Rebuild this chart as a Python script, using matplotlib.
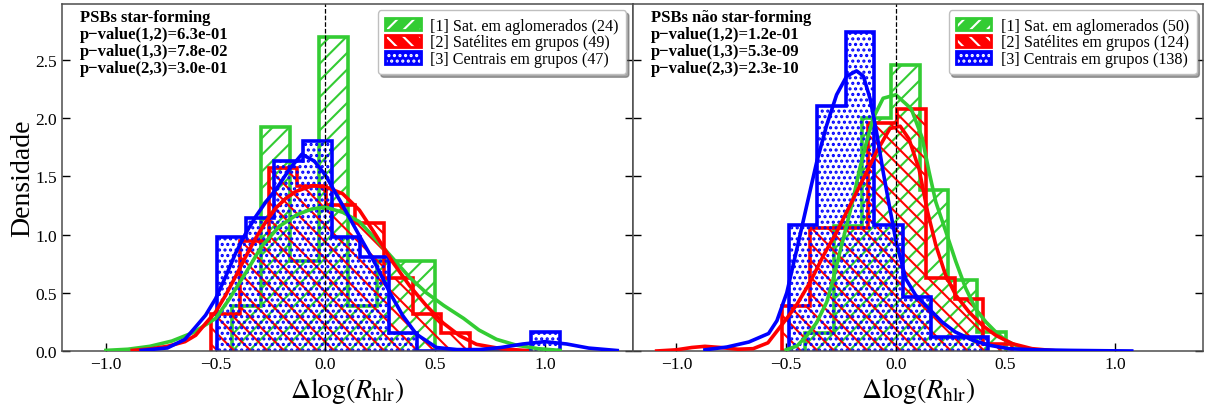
import matplotlib
matplotlib.use('Agg')
import matplotlib.pyplot as plt
from matplotlib.patches import Patch
from matplotlib.legend_handler import HandlerTuple

plt.rcParams['font.family'] = ['Liberation Serif', 'DejaVu Serif']
plt.rcParams['mathtext.fontset'] = 'stix'
plt.rcParams['hatch.linewidth'] = 1.5

# --- left panel: PSBs star-forming ---
L_green_edges = [-0.426, -0.294, -0.162, -0.030, 0.102, 0.234, 0.366, 0.498]
L_green_dens = [0.385, 1.925, 0.77, 2.695, 0.385, 0.77, 0.77]
L_red_edges = [-0.520, -0.389, -0.258, -0.127, 0.004, 0.136, 0.267, 0.398, 0.529, 0.660]
L_red_dens = [0.314, 0.942, 1.57, 1.413, 1.256, 1.099, 0.628, 0.314, 0.157]
L_blue_edges = [-0.492, -0.362, -0.232, -0.102, 0.028, 0.158, 0.288, 0.418,
                0.548, 0.678, 0.808, 0.938, 1.068]
L_blue_dens = [0.977, 1.14, 1.63, 1.80, 0.977, 0.81, 0.158, 0, 0, 0, 0, 0.164]

L_green_kx = [-1.0, -0.9, -0.8, -0.7, -0.6, -0.5, -0.44, -0.36, -0.29, -0.21, -0.13,
              -0.06, 0.0, 0.08, 0.155, 0.23, 0.31, 0.385, 0.46, 0.54, 0.63, 0.70,
              0.78, 0.87, 0.97, 1.07]
L_green_ky = [0.005, 0.015, 0.04, 0.085, 0.16, 0.28, 0.44, 0.68, 0.9, 1.07, 1.17,
              1.22, 1.235, 1.19, 1.11, 0.96, 0.79, 0.63, 0.50, 0.39, 0.28, 0.18,
              0.10, 0.05, 0.02, 0.005]
L_red_kx = [-0.88, -0.8, -0.72, -0.64, -0.591, -0.546, -0.5, -0.454, -0.409, -0.363,
            -0.317, -0.271, -0.226, -0.18, -0.134, -0.058, 0.0, 0.079, 0.155, 0.232,
            0.308, 0.384, 0.46, 0.537, 0.613, 0.689, 0.8, 0.92]
L_red_ky = [0.005, 0.017, 0.04, 0.08, 0.135, 0.236, 0.336, 0.48, 0.64, 0.81, 0.97,
            1.11, 1.227, 1.31, 1.37, 1.42, 1.41, 1.35, 1.21, 0.99, 0.76, 0.56, 0.39,
            0.24, 0.13, 0.057, 0.02, 0.003]
L_blue_kx = [-0.84, -0.72, -0.64, -0.591, -0.546, -0.5, -0.454, -0.409, -0.363, -0.317,
             -0.271, -0.226, -0.16, -0.107, -0.05, 0.0, 0.079, 0.155, 0.232, 0.293,
             0.354, 0.415, 0.506, 0.6, 0.7, 0.8, 0.9, 1.0, 1.1, 1.2, 1.33]
L_blue_ky = [0.005, 0.026, 0.10, 0.207, 0.307, 0.45, 0.64, 0.84, 1.01, 1.155, 1.28,
             1.385, 1.57, 1.69, 1.63, 1.51, 1.25, 0.99, 0.733, 0.503, 0.30, 0.144,
             0.03, 0.012, 0.012, 0.03, 0.06, 0.08, 0.06, 0.025, 0.004]

# --- right panel: PSBs nao star-forming ---
R_green_edges = [-0.414, -0.283, -0.153, -0.022, 0.109, 0.239, 0.370, 0.500]
R_green_dens = [0.153, 1.07, 2.0, 2.457, 1.385, 0.61, 0.164]
R_red_edges = [-0.520, -0.389, -0.257, -0.126, 0.005, 0.137, 0.268, 0.399, 0.530]
R_red_dens = [0.382, 1.057, 1.057, 1.954, 2.078, 0.63, 0.445, 0.063]
R_blue_edges = [-0.488, -0.358, -0.228, -0.098, 0.032, 0.162, 0.292, 0.422]
R_blue_dens = [1.078, 2.106, 2.739, 1.078, 0.46, 0.121, 0.121]

R_green_kx = [-0.5, -0.451, -0.406, -0.361, -0.315, -0.285, -0.255, -0.224, -0.194,
              -0.164, -0.133, -0.103, -0.058, 0.0, 0.07, 0.12, 0.15, 0.182, 0.227,
              0.273, 0.318, 0.364, 0.41, 0.455, 0.5, 0.545, 0.6, 0.65]
R_green_ky = [0.01, 0.043, 0.13, 0.244, 0.42, 0.62, 0.85, 1.08, 1.31, 1.57, 1.80,
              2.0, 2.17, 2.20, 2.08, 1.83, 1.55, 1.28, 1.03, 0.77, 0.54, 0.36, 0.25,
              0.164, 0.092, 0.05, 0.02, 0.005]
R_red_kx = [-1.09, -1.0, -0.93, -0.87, -0.8, -0.72, -0.65, -0.583, -0.542, -0.497,
            -0.451, -0.391, -0.33, -0.27, -0.209, -0.148, -0.088, -0.027, 0.02, 0.06,
            0.106, 0.144, 0.182, 0.227, 0.273, 0.333, 0.394, 0.455, 0.53, 0.62, 0.72]
R_red_ky = [0.0, 0.01, 0.03, 0.04, 0.03, 0.015, 0.02, 0.07, 0.17, 0.28, 0.40, 0.59,
            0.82, 1.02, 1.25, 1.48, 1.71, 1.91, 1.93, 1.82, 1.56, 1.20, 0.91, 0.65,
            0.48, 0.336, 0.22, 0.135, 0.063, 0.02, 0.003]
R_blue_kx = [-0.87, -0.77, -0.67, -0.58, -0.542, -0.497, -0.451, -0.406, -0.361,
             -0.315, -0.27, -0.224, -0.179, -0.148, -0.118, -0.088, -0.058, -0.027,
             0.0, 0.045, 0.09, 0.15, 0.21, 0.27, 0.35, 0.424, 0.515, 0.64, 0.8, 0.95,
             1.075]
R_blue_ky = [0.01, 0.034, 0.077, 0.15, 0.26, 0.50, 0.876, 1.25, 1.62, 1.94, 2.2, 2.36,
             2.405, 2.36, 2.17, 1.88, 1.54, 1.22, 0.95, 0.62, 0.48, 0.365, 0.25,
             0.164, 0.092, 0.05, 0.02, 0.01, 0.005, 0.002, 0.0]

names = ['[1] Sat. em aglomerados', '[2] Satélites em grupos', '[3] Centrais em grupos']
L_counts = [24, 49, 47]
R_counts = [50, 124, 138]
L_title = 'PSBs star-forming'
R_title = 'PSBs não star-forming'
L_pvals = ['6.3e-01', '7.8e-02', '3.0e-01']
R_pvals = ['1.2e-01', '5.3e-09', '2.3e-10']
pairs = ['(1,2)', '(1,3)', '(2,3)']

colors = ['#33cc33', '#ff0000', '#0000ff']
hatches = ['//', '\\\\', '...']


def draw_panel(ax, hists, kdes, counts, title, pvals):
    for (edges, dens), c, h in zip(hists, colors, hatches):
        ax.stairs(dens, edges, baseline=0, fill=False, hatch=h, edgecolor=c,
                  lw=2.6, zorder=2)
    for (kx, ky), c in zip(kdes, colors):
        ax.plot(kx, ky, color=c, lw=2.6, zorder=3)
    ax.axvline(0, color='k', ls='--', lw=0.9, zorder=4)

    handles = []
    for c, h in zip(colors, hatches):
        inner = Patch(facecolor=c, edgecolor='white', hatch=h, lw=0)
        outer = Patch(facecolor='none', edgecolor=c, lw=2)
        handles.append((inner, outer))
    labels = ['%s (%d)' % (n, k) for n, k in zip(names, counts)]
    ax.legend(handles, labels, loc='upper right', fontsize=11.6, shadow=True,
              fancybox=True, framealpha=1, edgecolor='0.75', labelspacing=0.05,
              handlelength=2.2, handleheight=0.8, handletextpad=0.6,
              borderaxespad=0.4, borderpad=0.45,
              handler_map={tuple: HandlerTuple(ndivide=1, pad=0)})

    lines = [title] + ['p\u2212value%s=%s' % (p, v) for p, v in zip(pairs, pvals)]
    ax.text(0.032, 0.985, '\n'.join(lines), transform=ax.transAxes, va='top',
            ha='left', fontsize=12, fontweight='bold', linespacing=1.08)

    ax.set_xlim(-1.2, 1.4)
    ax.set_ylim(0, 2.98)
    ax.set_xticks([-1.0, -0.5, 0.0, 0.5, 1.0])
    ax.set_yticks([0.0, 0.5, 1.0, 1.5, 2.0, 2.5])
    ax.tick_params(direction='in', length=6, width=1, labelsize=12.5,
                   left=True, right=True, top=False)
    for s in ax.spines.values():
        s.set_color('0.3')
        s.set_linewidth(1.1)
    ax.set_xlabel(r'$\Delta\log(R_{\rm hlr})$', fontsize=20, labelpad=2)


fig, (ax1, ax2) = plt.subplots(1, 2, figsize=(12.12, 4.10), dpi=100, sharey=True)
fig.subplots_adjust(left=0.0512, right=0.9926, bottom=0.1415, top=0.988, wspace=0)

draw_panel(ax1,
           [(L_green_edges, L_green_dens), (L_red_edges, L_red_dens),
            (L_blue_edges, L_blue_dens)],
           [(L_green_kx, L_green_ky), (L_red_kx, L_red_ky), (L_blue_kx, L_blue_ky)],
           L_counts, L_title, L_pvals)
draw_panel(ax2,
           [(R_green_edges, R_green_dens), (R_red_edges, R_red_dens),
            (R_blue_edges, R_blue_dens)],
           [(R_green_kx, R_green_ky), (R_red_kx, R_red_ky), (R_blue_kx, R_blue_ky)],
           R_counts, R_title, R_pvals)
ax2.tick_params(labelleft=False)
ax1.set_ylabel('Densidade', fontsize=20, labelpad=0)

fig.savefig('out.png', dpi=100)
